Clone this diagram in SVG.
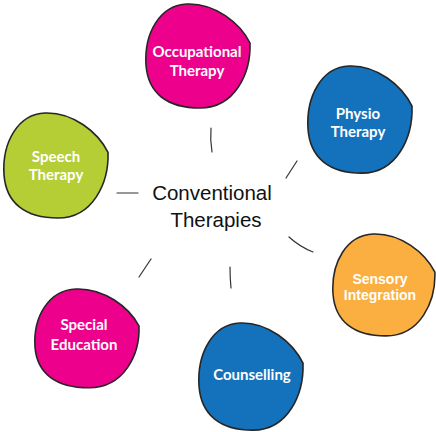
<svg xmlns="http://www.w3.org/2000/svg" width="436" height="432" viewBox="0 0 436 432">
<defs>
<style>
.blob{stroke:#262626;stroke-width:1.6;}
.pink{fill:#EC008C;}
.blue{fill:#1372BB;}
.green{fill:#B5CE35;}
.orange{fill:#FAAF40;}
.lbl{font-family:Lato,"Open Sans",sans-serif;font-weight:bold;font-size:15px;fill:#fff;text-anchor:middle;}
.lbl2{font-family:"Liberation Sans",Arial,sans-serif;font-weight:bold;font-size:14px;fill:#fff;text-anchor:middle;}
.center{font-family:"Liberation Sans",Arial,sans-serif;font-size:20.5px;fill:#111;text-anchor:middle;}
.conn{fill:none;stroke:#333;stroke-width:1.2;stroke-linecap:round;}
</style>
<path id="shape" d="M105,40 C106,70 90,105 55,105 C22,105 3,90 1,62 C-1,30 15,2 42,1 C70,0 95,20 105,40 Z"/>
</defs>
<rect width="436" height="432" fill="#fff"/>
<g id="connectors">
<path class="conn" d="M211,128 Q210,140 212,152"/>
<path class="conn" d="M297,161 L286,178"/>
<path class="conn" d="M117,193 L138,193"/>
<path class="conn" d="M289,237 Q300,247 313,252"/>
<path class="conn" d="M230,267 Q230,278 231,288"/>
<path class="conn" d="M151,259 L139,277"/>
</g>
<g id="center">
<text class="center" x="212" y="200">Conventional</text>
<text class="center" x="216" y="227">Therapies</text>
</g>
<g id="occupational">
<use href="#shape" class="blob pink" transform="translate(145,3)"/>
<text class="lbl" x="197" y="57">Occupational</text>
<text class="lbl" x="197" y="76">Therapy</text>
</g>
<g id="physio">
<use href="#shape" class="blob blue" transform="translate(307,65) scale(1,1.03)"/>
<text class="lbl" x="358" y="119">Physio</text>
<text class="lbl" x="358" y="137">Therapy</text>
</g>
<g id="speech">
<use href="#shape" class="blob green" transform="translate(3,112) scale(1,1.01)"/>
<text class="lbl" x="56" y="162">Speech</text>
<text class="lbl" x="56" y="180">Therapy</text>
</g>
<g id="sensory">
<use href="#shape" class="blob orange" transform="translate(332,233) scale(0.98,0.98)"/>
<text class="lbl2" x="380" y="284">Sensory</text>
<text class="lbl2" x="380" y="300">Integration</text>
</g>
<g id="special">
<use href="#shape" class="blob pink" transform="translate(34,288) scale(1,0.95)"/>
<text class="lbl" x="84" y="330">Special</text>
<text class="lbl" x="84" y="350">Education</text>
</g>
<g id="counselling">
<use href="#shape" class="blob blue" transform="translate(198,322) scale(1,1.03)"/>
<text class="lbl" x="252" y="380">Counselling</text>
</g>
</svg>
